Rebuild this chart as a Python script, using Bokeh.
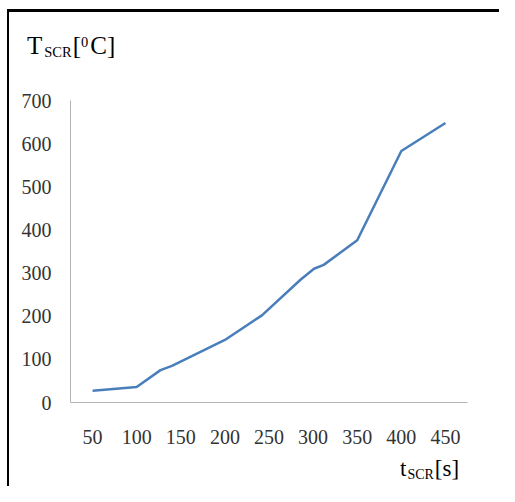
from bokeh.plotting import figure
from bokeh.models import Range1d, FixedTicker, Div
from bokeh.layouts import column
from bokeh.embed import file_html
from bokeh.resources import INLINE

# Data
t_s = [50, 100, 127, 140, 200, 242, 286, 301, 312, 350, 400, 450]
temp_c = [27, 36, 75, 85, 145, 202, 285, 310, 319, 376, 583, 648]
x_ticks = [50, 100, 150, 200, 250, 300, 350, 400, 450]
y_ticks = [0, 100, 200, 300, 400, 500, 600, 700]

font = "Liberation Serif"
CW = 490                   # content width inside the black frame lines
TH, FH, XH = 48, 395, 31   # heights: title row, figure, x-title row

title = Div(
    text='T<span style="font-size:14.5px; position:relative; top:3px; margin-left:2px">SCR</span>'
         '<span style="margin-left:1px">[</span>'
         '<span style="font-size:14.5px; position:relative; top:-7px">0</span>'
         '<span style="margin-left:2px">C]</span>',
    width=CW, height=TH, margin=0,
    styles={"font-family": font, "font-size": "25px", "color": "black",
            "line-height": "1", "padding-left": "18px", "padding-top": "21px",
            "box-sizing": "border-box", "white-space": "nowrap"})

p = figure(width=CW, height=FH, output_backend="svg", toolbar_location=None,
           x_range=Range1d(25, 475), y_range=Range1d(0, 700),
           min_border_left=61, min_border_right=32,
           min_border_top=40, min_border_bottom=53, margin=0)
p.outline_line_color = None
p.grid.visible = False
p.background_fill_color = "white"
p.border_fill_color = "white"

p.line(t_s, temp_c, line_color="#4a7ebb", line_width=2.5)

for ax in (p.xaxis[0], p.yaxis[0]):
    ax.axis_line_color = "#b4b4b4"
    ax.axis_line_width = 1
    ax.major_tick_line_color = None
    ax.minor_tick_line_color = None
    ax.major_label_text_font = font
    ax.major_label_text_font_size = "20px"
    ax.major_label_text_color = "#333333"
p.xaxis[0].ticker = FixedTicker(ticks=x_ticks)
p.yaxis[0].ticker = FixedTicker(ticks=y_ticks)
p.xaxis[0].major_label_standoff = 21
p.yaxis[0].major_label_standoff = 13

xtitle = Div(
    text='t<span style="font-size:14px; position:relative; top:3px; margin-left:1px">SCR</span>'
         '<span style="margin-left:1px">[s]</span>',
    width=CW, height=XH, margin=0,
    styles={"font-family": font, "font-size": "23px", "color": "black",
            "line-height": "1", "padding-left": "391px", "padding-top": "2px",
            "box-sizing": "border-box", "white-space": "nowrap"})

inner = column(title, p, xtitle, spacing=0, margin=(9, 0, 0, 7),
               styles={"border-top": "3px solid black", "border-left": "2px solid black",
                       "border-right": "none", "border-bottom": "none",
                       "overflow": "hidden", "background": "white"})
root = column(inner, spacing=0, margin=0,
              styles={"background": "white", "overflow": "hidden"})

open("out.html", "w").write(file_html(root, INLINE))
